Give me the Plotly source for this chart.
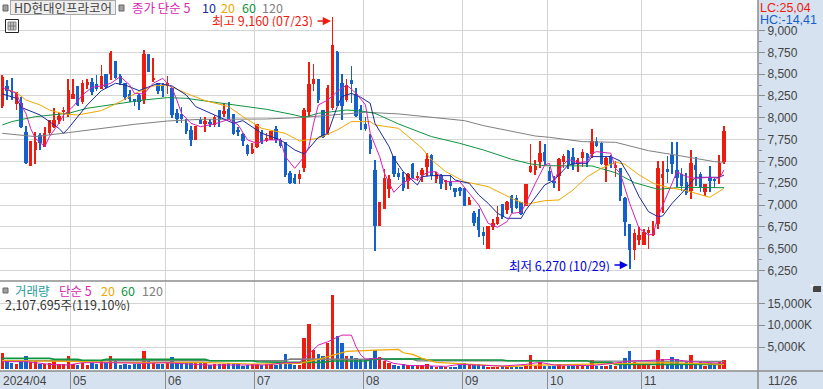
import plotly.graph_objects as go

W, H = 823, 389
PLOT_R, PRICE_B, VOL_B = 758, 281, 371

opens = [8130,8360,8320,8160,8170,7840,7450,7630,7800,7670,
 7820,7890,7970,8070,8040,8220,8360,8180,8380,8410,
 8390,8330,8500,8500,8650,8480,8400,8270,8220,8260,
 8200,8730,8430,8400,8360,8360,8340,8050,8040,7940,
 7860,7750,7980,7940,7940,7920,8090,8040,8100,8040,
 7850,7810,7690,7600,7660,7840,7730,7750,7870,7750,
 7720,7370,7310,7300,7430,8070,8390,8450,8090,7830,
 8110,8750,8400,8200,8430,8270,8100,7930,7750,7400,
 6760,6960,7180,7560,7370,7320,7270,7470,7310,7350,
 7440,7570,7300,7350,7270,7270,7200,7190,7200,7000,
 6910,6860,6690,6500,6750,6780,7010,6940,7100,7080,
 7040,6990,7380,7400,7490,7610,7390,7280,7330,7490,
 7620,7550,7470,7540,7580,7580,7730,7710,7460,7560,
 7420,7430,7080,6780,6480,6600,6540,6680,6660,6780,
 7310,7410,7570,7400,7360,7260,7160,7460,7360,7150,
 7320,7300,7320,7490]
highs = [8490,8430,8460,8300,8240,7910,7730,7840,7820,7900,
 7980,8110,8060,8120,8450,8450,8360,8430,8450,8460,
 8490,8600,8500,8760,8650,8500,8400,8320,8220,8270,
 8780,8730,8690,8400,8400,8480,8340,8100,8120,7990,
 7910,7910,8010,8010,7990,8030,8090,8170,8180,8040,
 7890,7820,7700,7710,7930,7860,7820,7850,7910,7770,
 7720,7390,7360,7400,8110,8640,8620,8450,8090,8380,
 9160,8770,8500,8450,8590,8340,8150,8010,7810,7520,
 7030,7410,7350,7560,7420,7380,7370,7480,7380,7430,
 7600,7590,7380,7360,7280,7350,7200,7210,7200,7090,
 6930,6960,6750,6760,6840,6990,7010,7050,7110,7110,
 7040,7240,7700,7520,7730,7700,7440,7330,7540,7590,
 7630,7650,7540,7640,7600,7870,7780,7720,7550,7570,
 7500,7430,7090,6780,6730,6750,6730,6750,6820,7510,
 7510,7560,7720,7720,7430,7370,7630,7550,7380,7240,
 7450,7310,7570,7910]
lows = [8110,8200,8200,8090,7880,7470,7450,7470,7630,7670,
 7800,7880,7930,7960,8010,8210,8140,8160,8330,8260,
 8310,8330,8340,8430,8450,8380,8200,8180,8130,8090,
 8160,8520,8410,8270,8240,8270,8000,7940,7940,7810,
 7680,7750,7930,7840,7890,7900,7890,8010,7990,7800,
 7790,7680,7560,7590,7650,7700,7720,7750,7710,7650,
 7320,7240,7240,7240,7380,8010,8310,8170,7770,7800,
 8090,8130,7980,8180,8170,8010,7860,7850,7580,6470,
 6760,6950,7080,7320,7290,7160,7180,7300,7270,7260,
 7330,7290,7250,7180,7170,7170,7090,7100,6990,7000,
 6760,6630,6540,6500,6710,6770,6840,6900,6910,6960,
 6890,6990,7370,7340,7420,7460,7280,7190,7160,7430,
 7410,7400,7380,7440,7440,7540,7670,7460,7260,7420,
 7320,7050,6640,6270,6370,6540,6540,6500,6650,6730,
 6910,7250,7360,7210,7160,7110,7070,7220,7150,7100,
 7150,7190,7240,7470]
closes = [8470,8310,8300,8290,7890,7480,7730,7720,7710,7820,
 7980,7980,8020,8090,8320,8270,8150,8400,8410,8290,
 8330,8480,8350,8740,8460,8400,8240,8220,8180,8180,
 8730,8530,8460,8310,8310,8400,8030,7990,7990,7850,
 7750,7910,7930,7960,7930,8010,7980,8080,7990,7810,
 7840,7730,7590,7640,7930,7720,7770,7850,7750,7680,
 7350,7250,7250,7360,8090,8390,8450,8200,7780,8340,
 8830,8140,8130,8380,8390,8020,7970,7870,7640,6760,
 7030,7310,7300,7360,7320,7190,7360,7310,7330,7400,
 7530,7330,7360,7240,7280,7220,7150,7170,6990,7060,
 6800,6710,6640,6760,6790,6860,6860,7030,6970,6970,
 6900,7240,7450,7450,7600,7500,7280,7250,7530,7560,
 7470,7470,7520,7610,7540,7730,7680,7470,7540,7470,
 7460,7100,6810,6490,6680,6660,6690,6710,6730,7420,
 7360,7380,7470,7310,7220,7140,7480,7400,7210,7240,
 7280,7270,7480,7850]
volumes = [3710,1820,1440,1140,1820,2960,1590,1820,1210,1210,
 1440,1820,1210,1210,2960,1210,910,1440,985,1290,
 1210,1820,1290,2960,1820,985,1210,985,1060,1210,
 4090,2270,1590,1210,1210,1520,2730,1520,1440,1440,
 1440,1670,1670,1440,985,1210,1210,1060,1440,1210,
 1210,680,985,1210,1210,910,1210,1060,985,1060,
 3410,1670,985,985,7050,10230,4320,3410,2960,5990,
 16830,7500,5990,2960,2960,2500,2350,2050,2430,4320,
 2800,1900,1290,910,680,1060,830,680,830,830,
 1140,760,530,760,530,530,530,830,1360,830,
 1140,1140,830,530,530,530,680,450,530,530,
 450,910,3180,760,1670,760,760,760,1140,760,
 760,760,680,760,680,2050,760,760,760,990,
 680,1520,2430,4090,1670,910,910,910,760,4320,
 2270,1060,2650,2270,910,1520,3180,910,1520,760,
 1290,1060,1670,2108]

ma5_idx = [0,3,4,5,6,7,9,10,12,13,15,17,19,21,23,25,27,28,30,32,34,36,37,38,40,42,45,48,50,52,54,56,59,60,62,
 64,65,66,67,69,71,73,75,77,78,80,81,83,85,87,88,90,92,94,95,97,99,101,103,105,107,108,110,111,113,115,116,
 117,118,120,122,124,125,126,129,130,131,133,135,137,138,139,142,143,145,147,150,152,153]
ma5_val = [8349,8280,8147,8051,7879,7765,7669,7784,7937,8032,8128,8261,8349,8364,8395,8471,8376,8280,8273,8395,8452,8338,8204,8051,7937,7898,7929,7982,7918,7746,7707,7746,7746,7555,7421,
 7555,7669,7937,8147,8204,8300,8376,8280,8147,7822,7555,7364,7146,7257,7306,7287,7375,7383,7268,7268,7268,7134,7001,6791,6745,6810,6905,6917,7020,7249,7459,7478,
 7268,7402,7524,7486,7497,7593,7612,7593,7421,7364,7020,6733,6657,6668,6867,7249,7383,7325,7306,7318,7306,7402]

ma10_idx = [0,3,4,8,12,13,14,18,21,24,26,29,33,36,39,41,45,49,51,55,59,62,64,67,69,71,72,74,76,78,79,82,83,85,88,89,91,95,96,99,101,103,105,107,110,111,115,117,120,122,124,125,129,131,133,135,137,139,140,142,144,146,147,150,152,153]
ma10_val = [8273,8223,8120,8032,7879,7822,7879,8147,8311,8395,8376,8311,8395,8364,8261,8128,8032,7937,7967,7822,7746,7631,7585,7776,7822,8128,8242,8280,8235,8166,7937,7669,7536,7383,7230,7325,7337,7337,7287,7249,7115,7020,6905,6848,6848,6943,7230,7287,7459,7478,7478,7555,7555,7505,7325,7096,6924,6867,6875,7020,7134,7249,7318,7318,7318,7344]

ma20_idx = [1,3,5,8,10,13,16,21,24,26,29,32,35,39,43,48,51,55,60,63,67,71,74,78,79,84,87,89,91,94,98,103,108,111,115,118,121,124,127,130,132,135,138,141,145,150,153]
ma20_val = [8326,8288,8204,8147,8089,8044,8032,8082,8158,8212,8300,8364,8376,8280,8196,8128,8013,7879,7822,7734,7765,7860,7956,7956,7918,7879,7746,7650,7516,7383,7268,7211,7077,7008,7050,7058,7173,7325,7421,7490,7467,7345,7249,7203,7165,7089,7192]

ma60_idx = [0,2,7,14,18,23,26,30,35,39,43,49,56,62,64,67,73,76,79,84,91,97,102,108,112,115,121,125,130,134,139,144,153]
ma60_val = [7918,7956,8013,8051,8109,8147,8173,8204,8231,8223,8193,8147,8097,8032,8005,8051,8089,8078,8051,7929,7784,7707,7631,7524,7471,7451,7451,7448,7371,7257,7180,7203,7199]

ma120_idx = [0,7,14,21,28,35,42,56,63,70,77,84,91,98,102,113,116,123,130,137,144,151,153]
ma120_val = [7822,7784,7830,7879,7925,7963,7982,7986,8002,8032,8063,8044,8005,7967,7910,7791,7776,7727,7719,7623,7562,7497,7490]

vma5_idx = [0,5,7,10,14,17,24,30,35,43,56,60,63,65,67,69,72,74,75,76,77,80,83,86,94,97,106,111,114,117,125,128,134,136,142,146,150,153]
vma5_val = [1670,1670,1440,1060,910,1440,1440,1290,1440,910,910,1440,1440,3560,5460,6220,7730,7730,5080,3180,2270,2430,1290,830,610,1060,680,1060,1520,910,760,1140,1900,1900,2200,1670,1520,1290]
vma20_idx = [0,14,25,42,53,63,67,70,73,78,84,85,87,89,92,96,100,108,111,132,136,141,153]
vma20_val = [1900,1740,1440,1520,1140,1290,2200,3180,4020,4240,4470,3710,3340,2430,1520,1290,990,530,830,1140,1290,1440,1060]
vma60_idx = [0,10,11,16,17,21,22,43,44,53,54,60,68,70,77,79,89,90,106,107,124,125,129,130,153]
vma60_val = [2430,2430,2200,2200,1970,1970,2200,2200,1900,1900,1670,1520,1520,1820,1820,2270,2350,2050,2050,1900,1900,1520,1520,1060,1060]
vma120_idx = [0,60,61,87,88,103,104,153]
vma120_val = [1900,1900,2270,2200,1900,1900,1740,1740]

month_grid = [14.5,34.5,53.5,76.5,97.5,115.5,135.5]
month_labels = [("2024/04",2),("05",72),("06",167),("07",256),("08",365),("09",464),("10",549),("11",643),("11/26",767)]
price_ticks = [6250,6500,6750,7000,7250,7500,7750,8000,8250,8500,8750,9000]
price_minor = [6375,6625,6875,7125,7375,7625,7875,8125,8375,8625,8875]
vol_ticks = [5000,10000,15000]
vol_tick_text = ["5,000K","10,000K","15,000K"]

RED, BLUE = "#ee1b0f", "#1460cc"
MAG, NAVY, ORG, GRN, GRY = "#d81fb5", "#1a2a9c", "#f0a800", "#0f9440", "#808080"
TICK = "#444444"; GRID = "#d4d4d4"; FRAME = "#8c8c8c"
FONT = "Liberation Sans"; KR = "Noto Sans CJK KR"

idx = list(range(len(closes)))
cols = [RED if c >= o else BLUE for o, c in zip(opens, closes)]
body_base = [min(o, c) for o, c in zip(opens, closes)]
body_h = [max(abs(c - o), 12) for o, c in zip(opens, closes)]
wick_h = [h - l for h, l in zip(highs, lows)]

fig = go.Figure()
fig.add_bar(x=idx, y=wick_h, base=lows, width=0.15, marker=dict(color=cols, line_width=0), xaxis="x", yaxis="y", showlegend=False)
fig.add_bar(x=idx, y=body_h, base=body_base, width=0.72, marker=dict(color=cols, line_width=0), xaxis="x", yaxis="y", showlegend=False)
for xs, ys, c in [(ma120_idx, ma120_val, GRY), (ma60_idx, ma60_val, GRN), (ma20_idx, ma20_val, ORG), (ma10_idx, ma10_val, NAVY), (ma5_idx, ma5_val, MAG)]:
    fig.add_scatter(x=xs, y=ys, mode="lines", line=dict(color=c, width=1), xaxis="x", yaxis="y", showlegend=False)
fig.add_bar(x=idx, y=volumes, width=0.72, marker=dict(color=cols, line_width=0), xaxis="x2", yaxis="y2", showlegend=False)
for xs, ys, c, w in [(vma120_idx, vma120_val, GRY, 1.4), (vma60_idx, vma60_val, GRN, 1.6), (vma20_idx, vma20_val, ORG, 1.2), (vma5_idx, vma5_val, MAG, 1)]:
    fig.add_scatter(x=xs, y=ys, mode="lines", line=dict(color=c, width=w), xaxis="x2", yaxis="y2", showlegend=False)

xrange = [-2.3 / 4.717, (PLOT_R - 2.3) / 4.717]
dom_x = [0, PLOT_R / W]
def py(v): return 1 - v / H
def px(v): return v / W

axis_common = dict(range=xrange, domain=dom_x, tickmode="array", tickvals=month_grid, showticklabels=False,
                   showgrid=True, gridcolor=GRID, gridwidth=1, zeroline=False)

annotations = []
def txt(x, y, s, color, size=12.5, family=KR, **kw):
    annotations.append(dict(xref="paper", yref="paper", x=px(x), y=py(y), text=s, showarrow=False, xanchor="left",
                            yanchor="middle", height=13, font=dict(color=color, size=size, family=family), borderpad=0, **kw))

txt(131, 7.5, "종가 단순 5", MAG)
txt(201, 7.5, "10", NAVY)
txt(220, 7.5, "20", ORG)
txt(241, 7.5, "60", GRN)
txt(261, 7.5, "120", GRY)
annotations.append(dict(xref="paper", yref="paper", x=px(62.5), y=py(8), text="HD현대인프라코어", showarrow=False, xanchor="center",
                        yanchor="middle", width=104, height=13, bgcolor="#eeeeee", bordercolor="#a8a8a8", borderwidth=1, borderpad=0,
                        font=dict(color="#444444", size=12.5, family=KR)))
txt(211, 21, "최고 9,160 (07/23)", RED)
txt(508, 265, "최저 6,270 (10/29)", "#0000e6")
txt(759, 7.5, "LC:25,04", RED, 12.5, FONT)
txt(759, 20, "HC:-14,41", BLUE, 12.5, FONT)
txt(14, 290, "거래량", "#2a9d9d")
txt(58, 290, "단순 5", MAG)
txt(100, 290, "20", ORG)
txt(120, 290, "60", GRN)
txt(141, 290, "120", GRY)
txt(4, 304, "2,107,695주(119,10%)", "#333333")
for s, x in month_labels:
    txt(x, 380, s, TICK, 12, FONT)
annotations.append(dict(xref="paper", yref="paper", x=px(817), y=py(289), text="×", showarrow=False, height=6, width=8,
                        font=dict(color="#ffffff", size=8, family=FONT), borderpad=0))

for x0, x1, y, c in [(316, 331, 21, RED), (613, 628, 265, "#0000e6")]:
    annotations.append(dict(xref="paper", yref="paper", x=px(x1), y=py(y), ax=x0 - x1, ay=0, axref="pixel", ayref="pixel",
                            text="", showarrow=True, arrowhead=2, arrowsize=1.1, arrowwidth=1.5, arrowcolor=c))

def rect(x0, y0, x1, y1, fill, line=None, w=0):
    return dict(type="rect", xref="paper", yref="paper", x0=px(x0), x1=px(x1), y0=py(y0), y1=py(y1),
                fillcolor=fill, line=dict(color=line or fill, width=w), layer="above")
def ln(x0, y0, x1, y1, c, w=1):
    return dict(type="line", xref="paper", yref="paper", x0=px(x0), x1=px(x1), y0=py(y0), y1=py(y1), line=dict(color=c, width=w), layer="above")

shapes = [
    ln(0, PRICE_B, PLOT_R, PRICE_B, FRAME, 1.5),
    ln(0, VOL_B, W, VOL_B, FRAME, 1.5),
    ln(PLOT_R, 0, PLOT_R, H, FRAME, 1.5),
    rect(3, 5, 8, 11, "#a0a0a0", "#666666", 1),
    rect(119, 5, 124, 11, "#a0a0a0", "#666666", 1),
    rect(3, 288, 8, 293, "#a0a0a0", "#666666", 1),
    rect(5.5, 19.5, 18.5, 32.5, "#ffffff", "#222222", 1),
    rect(8, 22, 16, 30, "#c8c8c8", "#888888", 1),
    ln(10.7, 22, 10.7, 30, "#777777"), ln(13.3, 22, 13.3, 30, "#777777"), ln(8, 26, 16, 26, "#777777"),
    rect(813, 286, 821, 292, "#444444"),
]

fig.update_layout(
    width=W, height=H, margin=dict(l=0, r=0, t=0, b=0), paper_bgcolor="#d6e2f0", plot_bgcolor="#ffffff",
    barmode="overlay", bargap=0, showlegend=False, annotations=annotations, shapes=shapes,
    font=dict(family=FONT, size=12, color=TICK),
    xaxis=dict(axis_common, anchor="y", ticks=""),
    xaxis2=dict(axis_common, anchor="y2", ticks="outside", ticklen=18, tickcolor=FRAME, tickwidth=1),
    yaxis=dict(domain=[py(PRICE_B), 1], range=[6129.7, 9349.5], side="right", anchor="x", tickmode="array", tickvals=price_ticks,
               tickformat=",d", showgrid=True, gridcolor=GRID, gridwidth=1, zeroline=False, ticks="outside", ticklen=6,
               tickcolor=FRAME, tickfont=dict(size=12, family=FONT, color=TICK),
               minor=dict(tickmode="array", tickvals=price_minor, ticks="outside", ticklen=3, tickcolor=FRAME, showgrid=False)),
    yaxis2=dict(domain=[py(VOL_B), py(PRICE_B)], range=[-457, 20090], side="right", anchor="x2", tickmode="array", tickvals=vol_ticks, ticktext=vol_tick_text,
                showgrid=True, gridcolor=GRID, gridwidth=1, zeroline=False, ticks="outside", ticklen=6, tickcolor=FRAME,
                tickfont=dict(size=12, family=FONT, color=TICK)),
)
fig.write_html("out.html", config={"displayModeBar": False}, post_script="document.body.style.margin='0';")
